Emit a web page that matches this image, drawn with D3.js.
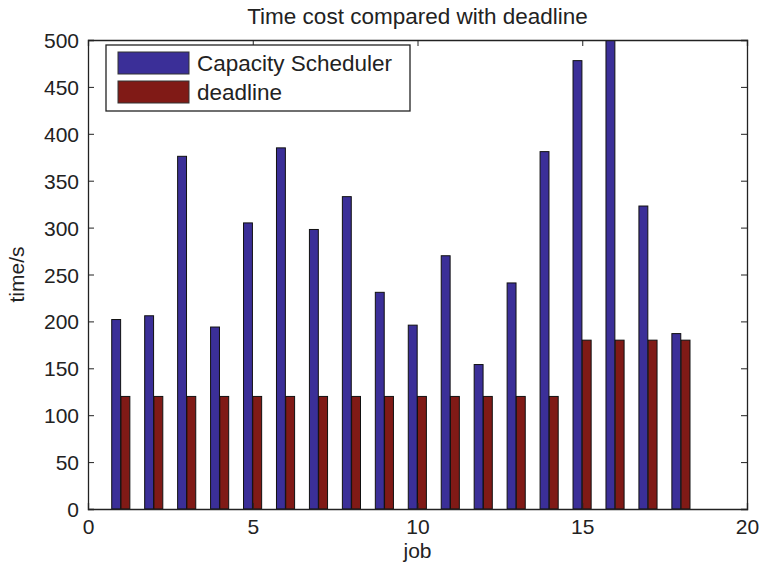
<!DOCTYPE html>
<html>
<head>
<meta charset="utf-8">
<script src="https://cdn.jsdelivr.net/npm/d3@7"></script>
<style>
  body { margin: 0; background: #fff; }
  text { font-family: "Liberation Sans", Arial, sans-serif; fill: #222; }
</style>
</head>
<body>
<div id="chart"></div>
<script>
// Data
const jobs = [1, 2, 3, 4, 5, 6, 7, 8, 9, 10, 11, 12, 13, 14, 15, 16, 17, 18];
const capacity = [202, 206, 376, 194, 305, 385, 298, 333, 231, 196, 270, 154, 241, 381, 478, 520, 323, 187];
const deadline = [120, 120, 120, 120, 120, 120, 120, 120, 120, 120, 120, 120, 120, 120, 180, 180, 180, 180];
const seriesNames = ['Capacity Scheduler', 'deadline'];
const xTicks = [0, 5, 10, 15, 20];
const yTicks = [0, 50, 100, 150, 200, 250, 300, 350, 400, 450, 500];

const W = 761, H = 568;
const margin = { top: 40, right: 14, bottom: 59, left: 88 };
const colors = ['#3b2f98', '#801a16'];

const svg = d3.select('#chart').append('svg')
    .attr('width', W)
    .attr('height', H);

const iw = W - margin.left - margin.right;
const ih = H - margin.top - margin.bottom;

const x = d3.scaleLinear().domain([0, 20]).range([0, iw]);
const y = d3.scaleLinear().domain([0, 500]).range([ih, 0]);

const g = svg.append('g')
    .attr('transform', `translate(${margin.left},${margin.top})`);

svg.append('defs').append('clipPath')
    .attr('id', 'plot-clip')
    .append('rect')
    .attr('width', iw)
    .attr('height', ih);

// Bars
const barW = 0.27;
const offsets = [-0.145, 0.135];
const bars = g.append('g').attr('clip-path', 'url(#plot-clip)');
[capacity, deadline].forEach((vals, s) => {
    bars.selectAll(`.bar-${s}`)
        .data(jobs.map((j, i) => ({ job: j, value: vals[i] })))
        .join('rect')
        .attr('class', `bar-${s}`)
        .attr('x', d => x(d.job + offsets[s] - barW / 2))
        .attr('width', x(barW) - x(0))
        .attr('y', d => y(d.value))
        .attr('height', d => y(0) - y(d.value))
        .attr('fill', colors[s])
        .attr('stroke', '#111')
        .attr('stroke-width', 1);
});

// Axes (ticks inward, box with ticks on all sides)
const tickLen = 6;
const xAxis = d3.axisBottom(x).tickValues(xTicks).tickSize(-tickLen).tickPadding(10);
const yAxis = d3.axisLeft(y).tickValues(yTicks).tickSize(-tickLen).tickPadding(9);

const xg = g.append('g').attr('transform', `translate(0,${ih})`).call(xAxis);
const yg = g.append('g').call(yAxis);
g.append('g').call(d3.axisTop(x).tickValues(xTicks).tickSize(-tickLen).tickFormat(''));
g.append('g').attr('transform', `translate(${iw},0)`)
    .call(d3.axisRight(y).tickValues(yTicks).tickSize(-tickLen).tickFormat(''));

g.selectAll('.domain').attr('stroke', '#222').attr('stroke-width', 1.3);
g.selectAll('.tick line').attr('stroke', '#222');
xg.selectAll('text').attr('font-size', 21).attr('fill', '#222');
yg.selectAll('text').attr('font-size', 21).attr('fill', '#222').attr('dy', '0.36em');

// Title and labels
svg.append('text')
    .attr('x', margin.left + iw / 2)
    .attr('y', 24)
    .attr('text-anchor', 'middle')
    .attr('font-size', 22.5)
    .text('Time cost compared with deadline');

svg.append('text')
    .attr('x', margin.left + iw / 2)
    .attr('y', 558)
    .attr('text-anchor', 'middle')
    .attr('font-size', 21)
    .text('job');

svg.append('text')
    .attr('transform', `translate(24,${margin.top + ih / 2}) rotate(-90)`)
    .attr('text-anchor', 'middle')
    .attr('font-size', 21)
    .text('time/s');

// Legend
const legend = svg.append('g').attr('transform', 'translate(106,45)');
legend.append('rect')
    .attr('width', 304)
    .attr('height', 66)
    .attr('fill', '#fff')
    .attr('stroke', '#222')
    .attr('stroke-width', 1.3);
seriesNames.forEach((name, i) => {
    legend.append('rect')
        .attr('x', 12)
        .attr('y', 7 + i * 29)
        .attr('width', 71)
        .attr('height', 22)
        .attr('fill', colors[i])
        .attr('stroke', '#333');
    legend.append('text')
        .attr('x', 91)
        .attr('y', 18 + i * 29)
        .attr('dy', '0.36em')
        .attr('font-size', 22.5)
        .text(name);
});
</script>
</body>
</html>
